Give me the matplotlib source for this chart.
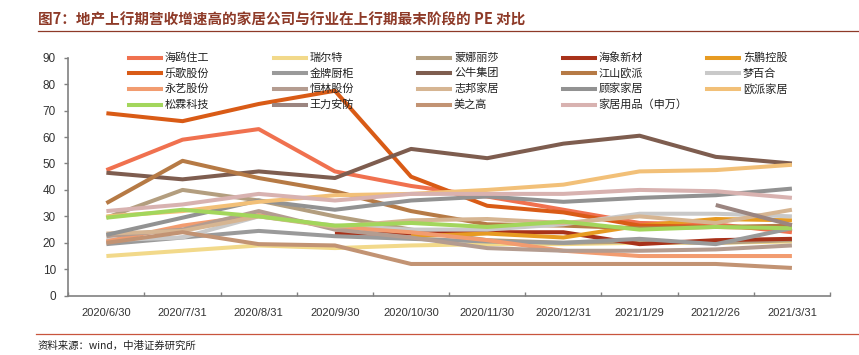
import numpy as np
import matplotlib
matplotlib.use("Agg")
import matplotlib.pyplot as plt
from matplotlib.lines import Line2D

nan = np.nan

categories = ["2020/6/30", "2020/7/31", "2020/8/31", "2020/9/30", "2020/10/30",
              "2020/11/30", "2020/12/31", "2021/1/29", "2021/2/26", "2021/3/31"]

names = ["海鸥住工", "瑞尔特", "蒙娜丽莎", "海象新材", "东鹏控股",
         "乐歌股份", "金牌厨柜", "公牛集团", "江山欧派", "梦百合",
         "永艺股份", "恒林股份", "志邦家居", "顾家家居", "欧派家居",
         "松霖科技", "王力安防", "美之高", "家居用品（申万）"]

haiou    = [47.5, 59, 63, 47, 41.5, 37.5, 32.5, 27.5, 27, 24]
ruierte  = [15, 17, 19, 18, 19, 19.5, 19.5, 20, 20, 20.5]
mengna   = [29.5, 40, 36, 30, 25, 21, 20, 20.5, 20, 21]
haixiang = [nan, nan, nan, 23.5, 23.5, 24, 24, 19.5, 21, 21.5]
dongpeng = [nan, nan, nan, nan, 22.5, 23.5, 22, 26.5, 29, 28.5]
lege     = [69, 66, 72.5, 77.5, 45, 34, 31.5, 26.5, 26, 25.5]
jinpai   = [19.5, 22, 24.5, 22.5, 21.5, 20.5, 20, 21.5, 19.5, 25.5]
gongniu  = [46.5, 44, 47, 44.5, 55.5, 52, 57.5, 60.5, 52.5, 50]
jiangshan= [35, 51, 44.5, 39.5, 32, 27, 26.5, 25.5, 26, 26.5]
mengbaihe= [21, 22, 30, 26.5, 25, 25, 27, 31, 31, 30]
yongyi   = [20.5, 26.5, 30.5, 26, 24, 21, 17, 15, 15, 15]
henglin  = [22.5, 25, 32, 25, 22, 18, 17, 17, 17.5, 19]
zhibang  = [23.5, 24.5, 30, 26, 28.5, 29, 27.5, 30, 27.5, 32.5]
gujia    = [23, 29.5, 36, 32.5, 36, 37.5, 35.5, 37, 38, 40.5]
oupai    = [30, 32, 35.5, 38, 38.5, 40, 42, 47, 47.5, 49.5]
songlin  = [29.5, 32.5, 30, 26.5, 27.5, 26, 28, 25, 26, 25.5]
wangli   = [nan, nan, nan, nan, nan, nan, nan, nan, 34.3, 26.7]
meizhigao= [20, 24, 19.5, 19, 12, 12, 12, 12, 12, 10.5]
jiaju    = [32, 34.5, 38.5, 36, 38.5, 38.5, 38.5, 40, 39.5, 37]

series = [haiou, ruierte, mengna, haixiang, dongpeng,
          lege, jinpai, gongniu, jiangshan, mengbaihe,
          yongyi, henglin, zhibang, gujia, oupai,
          songlin, wangli, meizhigao, jiaju]

colors = ["#F0714F", "#F2D98A", "#B39E7F", "#A8321A", "#E79B22",
          "#D95B16", "#9A9A9A", "#7E5D4F", "#B67A45", "#C9C9C9",
          "#F29C70", "#B49C90", "#D6B592", "#929292", "#F2C078",
          "#A3D65C", "#9B8580", "#C29373", "#D8B2B0"]

CJK = ["Noto Sans CJK SC", "DejaVu Sans"]
plt.rcParams["font.family"] = ["Liberation Sans", "Noto Sans CJK SC", "DejaVu Sans"]

W, H = 859, 355
fig = plt.figure(figsize=(W / 100, H / 100), dpi=100)
ax = fig.add_axes([68.3 / W, 1 - 295.7 / H, (830 - 68.3) / W, (295.7 - 57.7) / H])

x = np.arange(len(categories))
for vals, c in zip(series, colors):
    ax.plot(x, np.array(vals, dtype=float), color=c, lw=2.9, solid_capstyle="butt",
            solid_joinstyle="round")

ax.set_xlim(-0.5, len(categories) - 0.5)
ax.set_ylim(0, 90)
ax.set_yticks(np.arange(0, 91, 10))
ax.set_xticks(x)
ax.set_xticklabels(categories)
ax.set_xticks(np.arange(-0.5, len(categories), 1), minor=True)
ax.tick_params(axis="x", which="major", length=0, pad=9, labelsize=8, colors="#333333")
ax.tick_params(axis="x", which="minor", direction="in", length=3, color="#808080", width=1)
ax.tick_params(axis="y", direction="out", length=3, color="#808080", width=1,
               labelsize=8.5, colors="#333333", pad=6)
ax.tick_params(axis="y", colors="#808080", labelcolor="#333333")
for s in ["top", "right"]:
    ax.spines[s].set_visible(False)
for s in ["left", "bottom"]:
    ax.spines[s].set_color("#808080")
    ax.spines[s].set_linewidth(1.2)

# manual legend (5 equal-width columns, row-major)
for i, (name, c) in enumerate(zip(names, colors)):
    row, col = divmod(i, 5)
    x0 = 129 + col * 144.5
    yy = 57.7 + row * 15.6
    fig.add_artist(Line2D([x0 / W, (x0 + 32) / W], [1 - yy / H, 1 - yy / H],
                          color=c, lw=2.9, transform=fig.transFigure))
    fig.text((x0 + 36) / W, 1 - yy / H, name, family=CJK, fontsize=8,
             va="center", ha="left", color="#222222")

# title and decorations
fig.text(38 / W, 1 - 19 / H, "图7：地产上行期营收增速高的家居公司与行业在上行期最末阶段的 PE 对比",
         family=CJK, fontsize=10.5, fontweight="bold", color="#8E3A28",
         va="center", ha="left")
fig.add_artist(Line2D([38 / W, 1.0], [1 - 31 / H, 1 - 31 / H], color="#8E3A28",
                      lw=0.9, transform=fig.transFigure))
fig.add_artist(Line2D([36 / W, 1.0], [1 - 334 / H, 1 - 334 / H], color="#C8553D",
                      lw=0.9, transform=fig.transFigure))
fig.text(38 / W, 1 - 346 / H, "资料来源：wind，中港证券研究所", family=CJK,
         fontsize=7.5, color="#222222", va="center", ha="left")

fig.savefig("out.png", dpi=100)
